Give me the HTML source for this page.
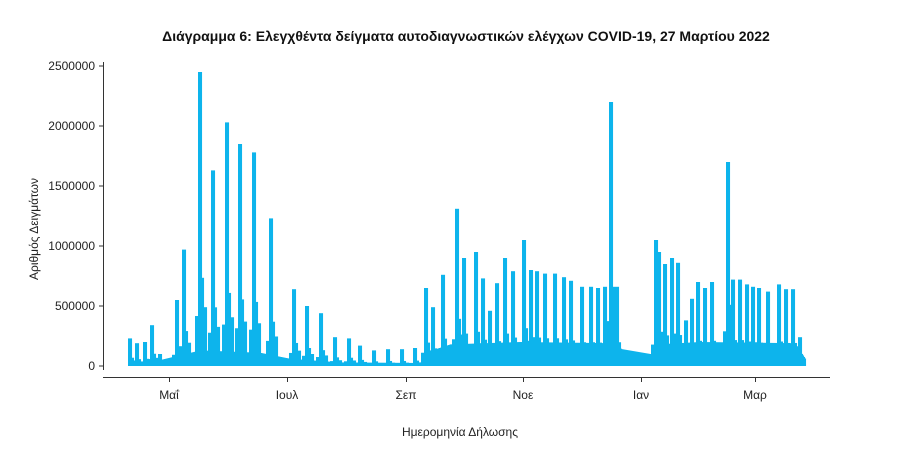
<!DOCTYPE html>
<html><head><meta charset="utf-8"><style>
body{margin:0;background:#fff;}
svg{display:block;font-family:"Liberation Sans",sans-serif;}
</style></head><body>
<svg id="s" width="900" height="453" xmlns="http://www.w3.org/2000/svg">
<text x="466" y="41" text-anchor="middle" font-size="14" font-weight="bold" fill="#111">Διάγραμμα 6: Ελεγχθέντα δείγματα αυτοδιαγνωστικών ελέγχων COVID-19, 27 Μαρτίου 2022</text>
<g font-size="12" fill="#222" text-anchor="end">
<text x="95" y="70">2500000</text>
<text x="95" y="130">2000000</text>
<text x="95" y="190">1500000</text>
<text x="95" y="250">1000000</text>
<text x="95" y="310">500000</text>
<text x="95" y="370">0</text>
</g>
<g stroke="#333" stroke-width="1">
<line x1="103.5" y1="62" x2="103.5" y2="370"/>
<line x1="99" y1="66" x2="103" y2="66"/><line x1="99" y1="126" x2="103" y2="126"/><line x1="99" y1="186" x2="103" y2="186"/><line x1="99" y1="246" x2="103" y2="246"/><line x1="99" y1="306" x2="103" y2="306"/><line x1="99" y1="366" x2="103" y2="366"/>
<line x1="103" y1="377.5" x2="830" y2="377.5"/>
<line x1="169.5" y1="378" x2="169.5" y2="382"/><line x1="287.5" y1="378" x2="287.5" y2="382"/><line x1="406.5" y1="378" x2="406.5" y2="382"/><line x1="523.5" y1="378" x2="523.5" y2="382"/><line x1="641.5" y1="378" x2="641.5" y2="382"/><line x1="755.5" y1="378" x2="755.5" y2="382"/>
</g>
<g font-size="12" fill="#222" text-anchor="middle">
<text x="169" y="399">Μαΐ</text><text x="287" y="399">Ιουλ</text><text x="406" y="399">Σεπ</text><text x="523" y="399">Νοε</text><text x="641" y="399">Ιαν</text><text x="755" y="399">Μαρ</text>
<text x="460" y="436">Ημερομηνία Δήλωσης</text>
</g>
<text transform="translate(38,229) rotate(-90)" font-size="12" fill="#222" text-anchor="middle">Αριθμός Δειγμάτων</text>
<g id="bars" fill="#0db4ec"></g>
</svg>
<script>
var peaks=[[130,230],[137,190],[145,200],[152,340],[160,100],[177,550],[184,970],[200,2450],[213,1630],[227,2030],[240,1850],[254,1780],[271,1230],[294,640],[307,500],[321,440],[335,240],[349,230],[360,170],[374,130],[388,140],[402,140],[415,150],[426,650],[433,490],[443,760],[457,1310],[464,900],[476,950],[483,730],[490,460],[497,690],[505,900],[513,790],[524,1050],[531,800],[537,790],[545,770],[555,770],[564,740],[571,710],[582,660],[591,660],[598,650],[605,660],[611,2200],[617,660],[656,1050],[659,950],[665,850],[672,900],[678,860],[686,380],[692,560],[698,700],[705,650],[712,700],[728,1700],[733,720],[740,720],[747,680],[753,660],[759,650],[768,620],[779,680],[786,640],[793,640],[800,240]];
var base=[[128,20],[160,50],[175,80],[200,130],[260,110],[290,60],[340,30],[420,25],[428,120],[450,180],[520,200],[610,190],[622,140],[650,100],[656,180],[700,200],[795,190],[806,50]];
function bl(x){for(var i=0;i<base.length-1;i++){var a=base[i],b=base[i+1];if(x>=a[0]&&x<=b[0])return a[1]+(b[1]-a[1])*(x-a[0])/(b[0]-a[0]);}return 0;}
var g=document.getElementById('bars'),h='';
for(var x=128;x<806;x+=1){
 var v=bl(x);
 for(var i=0;i<peaks.length;i++){var d=x-peaks[i][0],p=peaks[i][1];
  if(d>=-2&&d<2)v=Math.max(v,p);
  else if(d>=2&&d<4)v=Math.max(v,p*0.3);
  else if(d>=4&&d<7)v=Math.max(v,p*0.2);
  else if(d>=-5&&d<-2)v=Math.max(v,p*0.17);}
 var hh=v*0.12;
 h+='<rect x="'+x+'" y="'+(366-hh)+'" width="1.05" height="'+hh+'"/>';
}
g.innerHTML=h;
</script>
</body></html>
